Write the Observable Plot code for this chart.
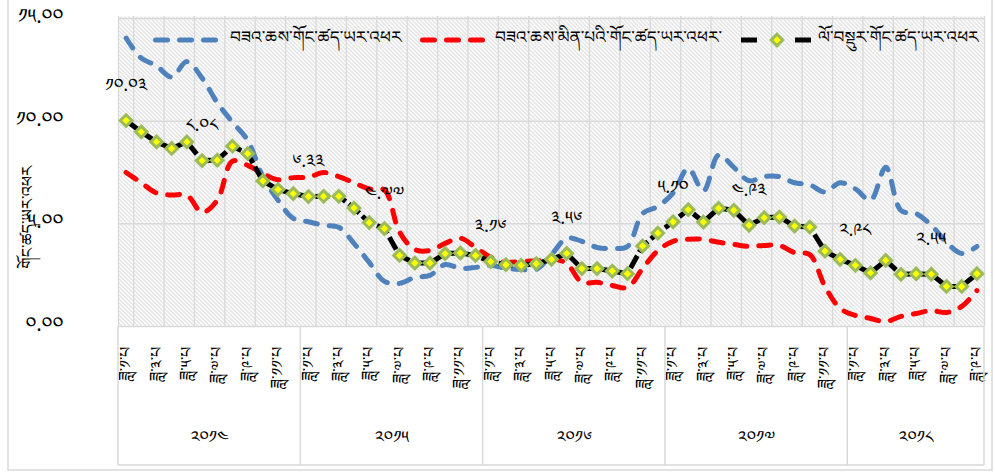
<!DOCTYPE html>
<html><head><meta charset="utf-8">
<script src="https://cdn.jsdelivr.net/npm/d3@7"></script>
<script src="https://cdn.jsdelivr.net/npm/@observablehq/plot@0.6"></script>
<style>
body{margin:0;background:#fff;}
#chart{position:relative;width:995px;height:473px;}
svg{font-family:'Noto Serif Tibetan','Noto Sans Tibetan',Jomolhari,'Microsoft Himalaya','DejaVu Sans',sans-serif;}
</style></head><body><div id="chart"></div>
<script>
// ---- data ----
const years = ["2014", "2015", "2016", "2017", "2018"];
const monthsPerYear = [12, 12, 12, 12, 9];
const monthTickNums = [1, 3, 5, 7, 9, 11];
const seriesNames = [
  "བཟའ་ཆས་གོང་ཚད་ཡར་འཕར",
  "བཟའ་ཆས་མིན་པའི་གོང་ཚད་ཡར་འཕར་",
  "ལོ་བསྡུར་གོང་ཚད་ཡར་འཕར"
];
const yTitle = "གོང་ཚད་ཡར་འཕར";
const monthWord = "ཟླ་";
const monthSuffix = "་པ";
const food = [
  14.05, 13.07, 12.7, 12.15, 12.9, 12.1, 10.9, 9.95, 9.07, 7.3, 6.15, 5.27,
  5.1, 4.93, 4.83, 4.05, 3.12, 2.2, 2.1, 2.39, 2.49, 3.02, 2.83, 2.88,
  2.98, 2.83, 2.78, 2.78, 3.5, 4.3, 4.15, 3.85, 3.8, 3.9, 5.5, 5.85,
  6.5, 7.7, 6.6, 8.35, 7.75, 7.1, 7.3, 7.3, 7.0, 6.9, 6.55, 7.0,
  6.7, 6.15, 7.75, 5.65, 5.5, 4.93, 4.1, 3.56, 3.9
];
const nonFood = [
  7.5, 7.0, 6.5, 6.4, 6.4, 5.56, 6.15, 8.05, 7.85, 7.45, 7.15, 7.25,
  7.27, 7.5, 7.3, 7.0, 6.7, 6.65, 4.6, 3.75, 3.7, 4.05, 4.3, 3.85,
  3.37, 3.12, 3.17, 3.2, 3.3, 3.07, 2.15, 2.15, 2.0, 1.9, 2.83, 3.7,
  4.15, 4.25, 4.25, 4.1, 4.0, 3.9, 3.95, 3.95, 3.6, 3.5, 1.95, 0.88,
  0.54, 0.39, 0.24, 0.49, 0.63, 0.78, 0.68, 0.98, 1.75
];
const overall = [
  10.03, 9.48, 8.99, 8.67, 8.99, 8.08, 8.10, 8.78, 8.42, 7.09, 6.67, 6.47,
  6.33, 6.34, 6.34, 5.77, 5.06, 4.77, 3.46, 3.09, 3.09, 3.55, 3.58, 3.46,
  3.16, 3.01, 2.98, 3.06, 3.27, 3.56, 2.82, 2.82, 2.70, 2.57, 3.92, 4.55,
  5.10, 5.69, 5.09, 5.76, 5.66, 4.93, 5.30, 5.33, 4.89, 4.84, 3.67, 3.27,
  2.98, 2.61, 3.22, 2.54, 2.56, 2.55, 1.95, 1.95, 2.57
];
const labelIdx = [0, 5, 12, 17, 24, 29, 36, 41, 48, 53];
const yTicks = [0, 5, 10, 15];

// ---- helpers ----
const tib = s => String(s).replace(/[0-9]/g, d => String.fromCharCode(0x0F20 + +d));
const rows = overall.map((v, i) => ({i, food: food[i], nonFood: nonFood[i], overall: v}));
const yearStarts = d3.cumsum([0, ...monthsPerYear]).slice(0, -1);
const totalMonths = d3.sum(monthsPerYear);
const yearBounds = [...yearStarts, totalMonths];
const monthTicks = [];
years.forEach((y, k) => {
  monthTickNums.forEach(m => { if (m <= monthsPerYear[k]) monthTicks.push({i: yearStarts[k] + m - 1, m}); });
});
const gridXs = [0, ...d3.range(1, totalMonths, 2), totalMonths];
const labels = labelIdx.map(i => ({i, v: overall[i]}));

const BLUE = "#4f81bd", RED = "#ff0000", GREEN = "#9bbb59", YEL = "#ffff00";
const dash = "12 12";

const plot = Plot.plot({
  width: 995, height: 473,
  marginLeft: 118, marginRight: 11, marginTop: 16, marginBottom: 147,
  x: {domain: [0, totalMonths], axis: null},
  y: {domain: [0, 15], range: [326, 18], axis: null},
  style: {background: "transparent", overflow: "visible"},
  marks: [
    Plot.frame({fill: "url(#hatch)", stroke: "none"}),
    Plot.ruleX(gridXs, {stroke: "#d9d9d9", strokeWidth: 1.3}),
    Plot.ruleY(yTicks, {stroke: "#d9d9d9", strokeWidth: 1.5}),
    Plot.text(yTicks, {y: d => d, frameAnchor: "left", dx: -55, dy: -2, textAnchor: "end", text: d => tib(d.toFixed(2)), fontSize: 20, fill: "#000"}),
    Plot.line(rows, {x: d => d.i + 0.5, y: "food", stroke: BLUE, strokeWidth: 5, strokeDasharray: dash, strokeLinecap: "round", curve: "catmull-rom"}),
    Plot.line(rows, {x: d => d.i + 0.5, y: "nonFood", stroke: RED, strokeWidth: 5, strokeDasharray: dash, strokeLinecap: "round", curve: "catmull-rom"}),
    Plot.line(rows, {x: d => d.i + 0.5, y: "overall", stroke: "#000", strokeWidth: 5, strokeDasharray: "14 4", strokeLinecap: "butt"}),
    Plot.dot(rows, {x: d => d.i + 0.5, y: "overall", symbol: "diamond2", r: 5.2, fill: YEL, stroke: GREEN, strokeWidth: 3}),
    Plot.text(labels, {x: d => d.i + 0.5, y: "v", dy: -35, text: d => tib(d.v.toFixed(2)), fontSize: 18, fill: "#000"}),
    Plot.text(monthTicks, {x: d => d.i + 0.5, frameAnchor: "bottom", dy: 20, rotate: -90, textAnchor: "end", lineAnchor: "middle", text: d => monthWord + tib(d.m) + monthSuffix, fontSize: 16, fill: "#000"}),
    Plot.text(years, {x: (d, k) => (yearBounds[k] + yearBounds[k + 1]) / 2, frameAnchor: "bottom", dy: 116, text: d => tib(d), fontSize: 17, fill: "#000"})
  ]
});
document.getElementById("chart").appendChild(plot);

// ---- decorations ----
const svg = d3.select(plot);
const defs = svg.insert("defs", ":first-child");
const pat = defs.append("pattern").attr("id", "hatch").attr("patternUnits", "userSpaceOnUse").attr("width", 4).attr("height", 4);
pat.append("rect").attr("width", 4).attr("height", 4).attr("fill", "#fff");
pat.append("path").attr("d", "M-1,-1L5,5M-1,3L1,5M3,-1L5,1").attr("stroke", "#c8c8c8").attr("stroke-width", 1);

const xs = plot.scale("x"), ys = plot.scale("y");
const X = v => xs.apply(v);
const yBase = ys.apply(0), yAxisBottom = yBase + 139;
const deco = svg.insert("g", ":first-child");
deco.append("rect").attr("x", 8).attr("y", -2).attr("width", 984).attr("height", 472).attr("fill", "#fff").attr("stroke", "#d9d9d9").attr("stroke-width", 1.5);
const ax = svg.append("g").attr("stroke", "#d9d9d9").attr("stroke-width", 1.5);
yearBounds.forEach(b => ax.append("line").attr("x1", X(b)).attr("x2", X(b)).attr("y1", yBase).attr("y2", yAxisBottom));
ax.append("line").attr("x1", X(0)).attr("x2", X(totalMonths)).attr("y1", yAxisBottom).attr("y2", yAxisBottom);

// y-axis title
svg.append("text").attr("transform", `translate(28,${ys.apply(5.3)}) rotate(-90)`)
  .attr("text-anchor", "middle").attr("dominant-baseline", "middle").attr("font-size", 16).text(yTitle);

// legend
const lg = svg.append("g").attr("font-size", 17).attr("text-anchor", "start");
const ly = 40;
const legendItems = [
  {color: BLUE, x0: 155.5, x1: 215.5, tx: 230, name: seriesNames[0]},
  {color: RED, x0: 422.5, x1: 482.5, tx: 495, name: seriesNames[1]}
];
legendItems.forEach(it => {
  lg.append("line").attr("x1", it.x0).attr("x2", it.x1).attr("y1", ly).attr("y2", ly)
    .attr("stroke", it.color).attr("stroke-width", 5).attr("stroke-dasharray", dash).attr("stroke-linecap", "round");
  lg.append("text").attr("x", it.tx).attr("y", ly - 3).attr("dominant-baseline", "middle").text(it.name);
});
[[741, 757], [795, 811]].forEach(([a, b]) => lg.append("line").attr("x1", a).attr("x2", b).attr("y1", ly).attr("y2", ly).attr("stroke", "#000").attr("stroke-width", 5));
lg.append("path").attr("d", d3.symbol(d3.symbolDiamond2, 5.2 * 5.2 * Math.PI)()).attr("transform", `translate(777,${ly})`)
  .attr("fill", YEL).attr("stroke", GREEN).attr("stroke-width", 3);
lg.append("text").attr("x", 818).attr("y", ly - 3).attr("dominant-baseline", "middle").text(seriesNames[2]);
</script></body></html>
